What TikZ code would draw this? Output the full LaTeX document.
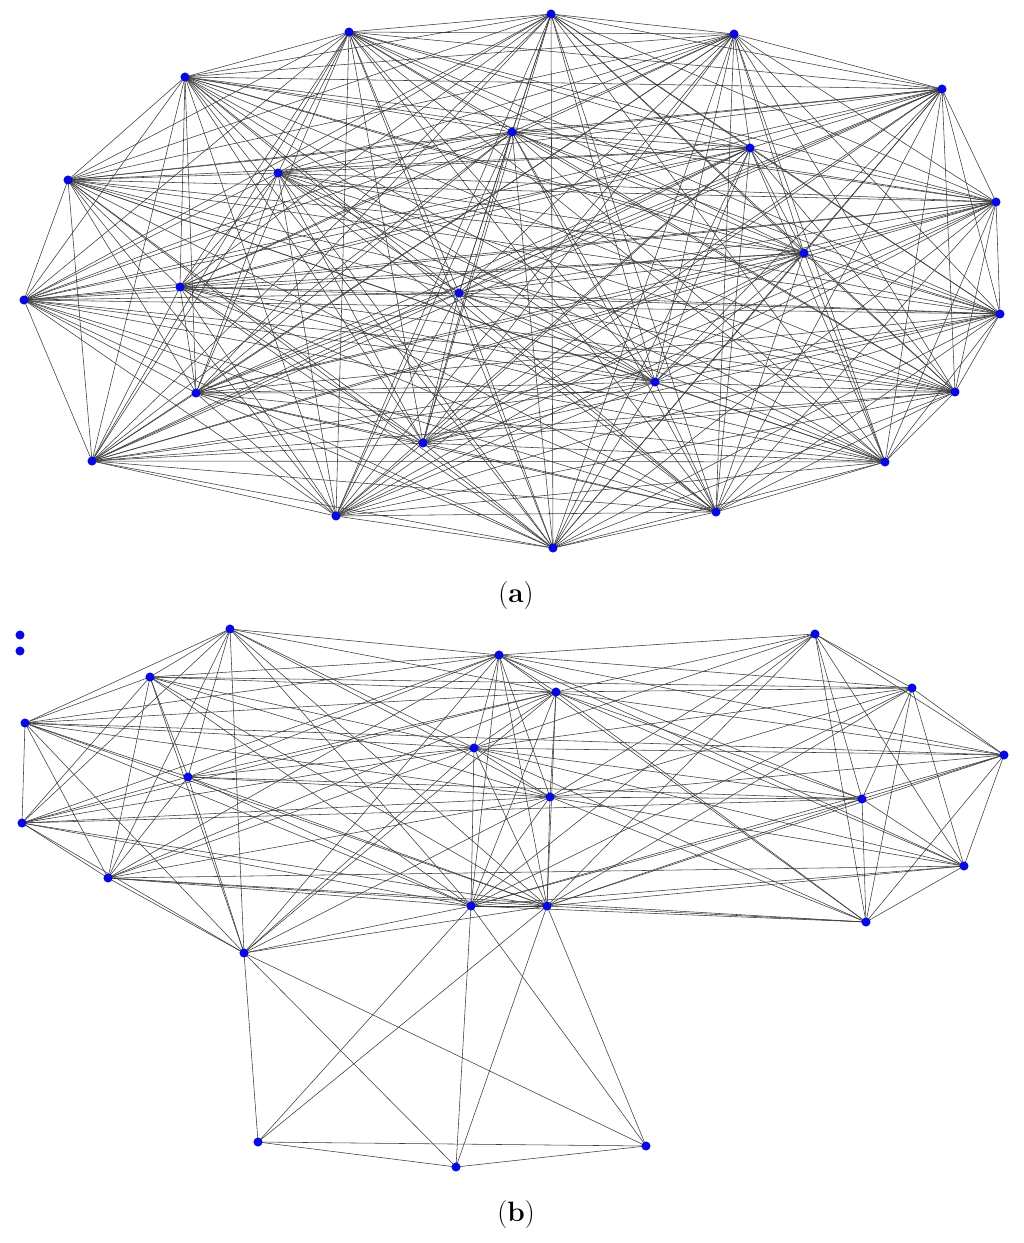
\documentclass[tikz,border=0pt]{standalone}
\usetikzlibrary{backgrounds}
\definecolor{nodeblue}{RGB}{8,8,225}
\definecolor{edgegray}{RGB}{60,60,60}
\tikzset{
  vtx/.style={circle,fill=nodeblue,draw=none,inner sep=0pt,minimum size=6.8pt},
  edg/.style={draw=edgegray,line width=0.42pt},
  captxt/.style={font=\fontsize{21}{24}\selectfont}
}
\begin{document}
\begin{tikzpicture}[x=0.75pt,y=-0.75pt]
\useasboundingbox (0,0) rectangle (1024,1243);
% ---------- panel (a) ----------
\foreach \n/\x/\y in {1/551/14,2/349/32,3/734/34,4/185/77,5/942/89,6/512/132,7/750/148,8/68/180,
  9/278/173,10/996/202,11/804/253,12/180/287,13/459/293,14/24/300,15/1000/314,16/655/382,
  17/196/393,18/955/392,19/423/443,20/92/461,21/885/462,22/336/516,23/716/512,24/553/548}
  \node[vtx] (a\n) at (\x,\y) {};
\begin{pgfonlayer}{background}
\foreach \i in {1,...,23}{
  \pgfmathtruncatemacro{\k}{\i+1}
  \foreach \j in {\k,...,24}{
    \draw[edg] (a\i.center) -- (a\j.center);
  }
}
\end{pgfonlayer}
\node[captxt] (capa) at (516,596) {(\textbf{a})};
% ---------- panel (b) ----------
\foreach \n/\x/\y in {X1/20/635,X2/20/651,A/230/629,B/499/655,C/815/634,D/150/677,E/556/692,
  F/912/688,G/25/723,H/474/748,I/1004/755,J/188/777,K/550/797,L/862/799,M/22/823,N/108/878,
  O/964/866,P/471/906,Q/547/906,R/866/922,S/244/953,T/258/1142,U/456/1167,V/646/1146}
  \node[vtx] (b\n) at (\x,\y) {};
\def\LM{A,D,G,J,M,N,S,B,E,H,K,P,Q}
\def\MID{B,E,H,K,P,Q}
\def\RGT{C,F,I,L,O,R}
\begin{pgfonlayer}{background}
% left + middle communities
\foreach \u [count=\i] in \LM{
  \foreach \v [count=\j] in \LM{
    \ifnum\i<\j \draw[edg] (b\u.center) -- (b\v.center); \fi
  }
}
% right community
\foreach \u [count=\i] in \RGT{
  \foreach \v [count=\j] in \RGT{
    \ifnum\i<\j \draw[edg] (b\u.center) -- (b\v.center); \fi
  }
}
% middle to right
\foreach \u in \MID{
  \foreach \v in \RGT{
    \draw[edg] (b\u.center) -- (b\v.center);
  }
}
% bottom community
\foreach \u in {S,P,Q}{
  \foreach \v in {T,U,V}{
    \draw[edg] (b\u.center) -- (b\v.center);
  }
}
\draw[edg] (bT.center) -- (bU.center);
\draw[edg] (bT.center) -- (bV.center);
\draw[edg] (bU.center) -- (bV.center);
% a few long left-right links
\foreach \u/\v in {D/F,G/I,J/L,M/L,N/O,N/R}
  \draw[edg] (b\u.center) -- (b\v.center);
\end{pgfonlayer}
\node[captxt] (capb) at (516,1214) {(\textbf{b})};
\end{tikzpicture}
\end{document}
